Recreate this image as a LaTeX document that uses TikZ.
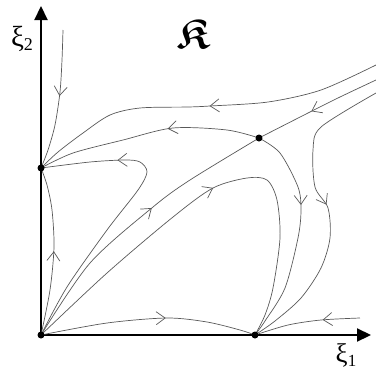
\documentclass[tikz,border=0pt]{standalone}
\usepackage{amsmath,amssymb}
\usepackage{fontspec}
\setmainfont{Liberation Serif}
\usetikzlibrary{arrows.meta,decorations.markings}

\begin{document}
\begin{tikzpicture}[x=1pt,y=-1pt,
dot/.style={circle,fill=black,inner sep=0pt,minimum size=7pt},
axis/.style={line width=2.2pt,-{Triangle[length=14pt,width=13pt]}},
flow/.style={draw=black!65,line width=0.7pt},
barb at/.style={postaction={decorate,decoration={markings,
  mark=at position #1 with {\arrow[black!65,line width=0.7pt]{Straight Barb[length=9pt,width=13pt]}}}}},
lbl/.style={inner sep=0pt}
]
\useasboundingbox (0,0) rectangle (376,376);
% equilibria and free ends
\coordinate (O) at (41,335);
\coordinate (A) at (41,168);
\coordinate (B) at (255,335);
\coordinate (S) at (259,138);
\coordinate (ytip) at (41,6);
\coordinate (xtip) at (371,335);
% axes
\draw[axis] (O) -- (ytip);
\draw[axis] (O) -- (xtip);
% trajectories into A
\draw[flow,barb at=0.47] plot[smooth] coordinates {(63,30) (62,60) (60,92) (55,125) (48,150) (A)};
\draw[flow,barb at=0.48] plot[smooth] coordinates {(376,65) (321,90) (268,102) (210,106) (188,107) (140,108) (110,115) (83,133) (58,152) (A)};
\draw[flow,barb at=0.41] plot[smooth] coordinates {(S) (227,130) (173,128) (123,140) (73,153) (A)};
\draw[flow,barb at=0.75] plot[smooth] coordinates {(O) (67,287) (107,230) (138,190) (147,172) (140,162) (125,160) (90,162) (A)};
\draw[flow,barb at=0.5] plot[smooth] coordinates {(O) (50,290) (54,247) (52,210) (47,185) (A)};
% trajectories into S
\draw[flow,barb at=0.55] plot[smooth] coordinates {(376,80) (340,97) (308,113) (S)};
\draw[flow,barb at=0.57] plot[smooth] coordinates {(O) (90,263) (153,207) (190,180) (S)};
% trajectories into B
\draw[flow,barb at=0.51] plot[smooth] coordinates {(O) (107,273) (173,217) (213,188) (247,178) (267,180) (277,200) (280,238) (273,288) (265,315) (B)};
\draw[flow,barb at=0.58] plot[smooth] coordinates {(O) (107,323) (167,318) (207,322) (240,330) (B)};
\draw[flow,barb at=0.35] plot[smooth] coordinates {(360,318) (321,320) (288,325) (B)};
\draw[flow,barb at=0.37] plot[smooth] coordinates {(S) (280,153) (298,187) (301,210) (298,238) (285,288) (265,321) (B)};
\draw[flow,barb at=0.48] plot[smooth] coordinates {(376,93) (321,127) (313,150) (315,187) (328,208) (330,238) (321,268) (301,298) (275,321) (B)};
% points
\node[dot] (dotO) at (O) {};
\node[dot] (dotA) at (A) {};
\node[dot] (dotB) at (B) {};
\node[dot] (dotS) at (S) {};
% labels
\node[lbl] (xi2) at (22,39) {\fontsize{29}{29}\selectfont ξ\raisebox{-4pt}{\fontsize{18}{18}\selectfont 2}};
\node[lbl] (xi1) at (346,355) {\fontsize{27}{27}\selectfont ξ\raisebox{-4pt}{\fontsize{17}{17}\selectfont 1}};
\node[lbl] (K) at (193,34) {\fontsize{42}{42}\selectfont$\boldsymbol{\mathfrak{K}}$};
\end{tikzpicture}
\end{document}
